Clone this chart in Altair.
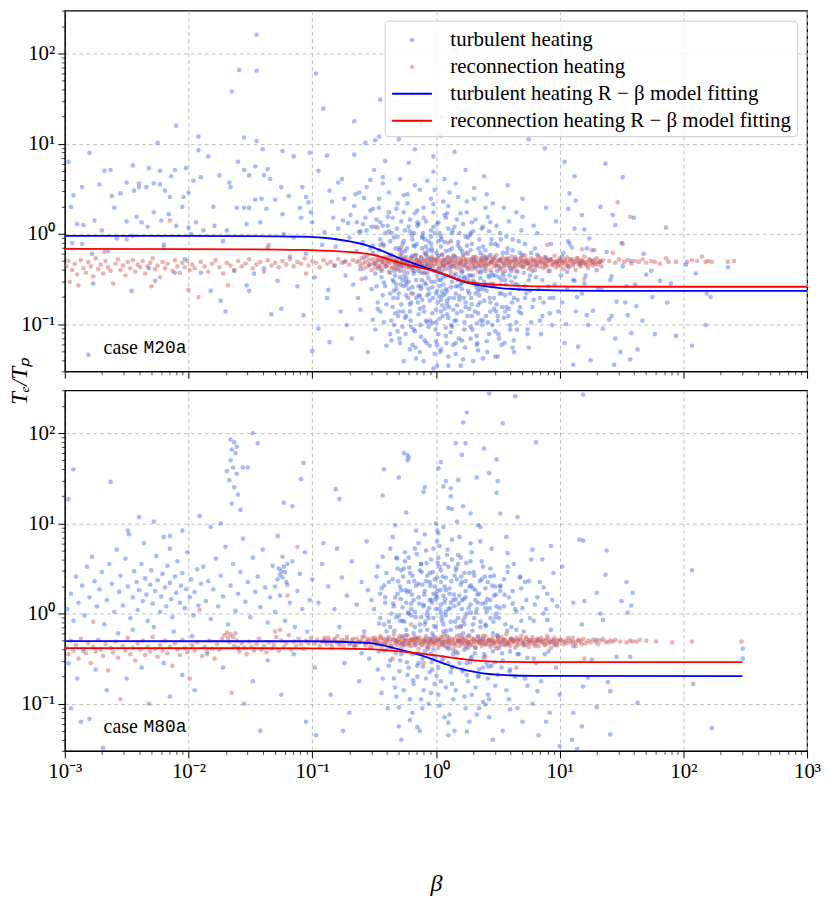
import altair as alt
import pandas as pd

SERIF = "Liberation Serif"
MONO = "Liberation Mono"

SERIES = ["turbulent heating", "reconnection heating",
          "turbulent heating R − β model fitting",
          "reconnection heating R − β model fitting"]
FILLS = ["rgba(65,105,225,0.45)", "rgba(205,92,92,0.45)", "#0000ff", "#ff0000"]
STROKES = ["transparent", "transparent", "#0000ff", "#ff0000"]
DOT = "M0.17,0A0.17,0.17,0,1,1,-0.17,0A0.17,0.17,0,1,1,0.17,0Z"
DASH = "M-1.48,0L1.48,0"
SHAPES = [DOT, DOT, DASH, DASH]
CASES = ["M20a", "M80a"]
SUPERS = "['⁻³','⁻²','⁻¹','⁰','¹','²','³']"

# ---- scatter values: "log10(beta),log10(Te/Tp)" ----
M20A_TURB = """
-2.97,0.80 -2.80,0.90 -2.10,1.20 -1.45,2.21 -1.59,1.82 -1.45,1.81 -1.65,1.58 -0.97,1.78 -0.91,1.39 -0.45,1.49 -0.66,1.25
-1.92,1.08 -1.92,0.93 -1.84,0.86 -1.55,1.07 -1.45,1.03 -1.40,0.94 -2.25,1.01 -1.24,0.92 -1.15,0.86 -1.02,0.90 -0.66,0.88
-0.57,1.01 -0.49,1.04 -0.46,1.08 -0.41,0.81 -0.88,0.87
-2.68,0.70 -2.63,0.71 -2.45,0.76 -2.32,0.73 -2.23,0.70 -2.14,0.64 -2.11,0.71 -2.02,0.73 -1.96,0.59 -2.93,0.43 -2.86,0.52
-2.62,0.42 -2.50,0.57 -2.40,0.56 -2.40,0.52 -2.44,0.48 -2.34,0.52 -2.28,0.56 -2.23,0.55 -2.19,0.48 -2.15,0.41 -2.04,0.41
-2.00,0.46 -1.90,0.63 -1.67,0.57 -1.66,0.52 -1.60,0.80 -1.55,0.71 -1.51,0.65 -1.46,0.75 -1.39,0.65 -1.36,0.72 -1.34,0.61
-1.25,0.52 -1.19,0.42 -1.08,0.52 -1.05,0.41 -1.03,0.35 -0.95,0.70 -0.86,0.48 -0.79,0.57 -0.74,0.39 -0.62,0.46 -0.53,0.60
-0.43,0.63 -0.58,0.40
-2.90,0.11 -2.85,0.10 -2.76,0.15 -2.70,0.04 -2.60,0.29 -2.55,0.45 -2.50,0.14 -2.42,0.19 -2.38,0.13 -2.33,0.08 -2.28,0.24
-2.22,0.15 -2.16,0.22 -2.10,0.09 -2.00,0.07 -1.94,0.13 -1.88,0.04 -1.79,0.09 -1.69,0.04 -1.61,0.29 -1.55,0.29 -1.51,0.29
-1.53,0.11 -1.42,0.13 -1.46,0.38 -1.41,0.39 -1.37,0.28 -1.30,0.38 -1.24,0.22 -1.09,0.18 -1.10,0.29 -1.01,0.24 -1.00,0.13
-0.83,0.18 -0.75,0.15 -0.64,0.13 -0.61,0.03 -0.57,0.18 -0.51,0.28 -0.49,0.08 -0.43,0.09 -0.38,0.24
-2.94,-0.10 -2.86,-0.11 -2.78,-0.22 -2.77,-0.55 -2.46,-0.63 -2.65,-0.19 -2.32,-0.38 -2.27,-0.52 -2.11,-0.43 -2.03,-0.28
-1.90,-0.43 -1.82,-0.63 -1.74,-0.74 -1.70,-0.86 -1.63,-0.41 -1.53,-0.57 -1.51,-0.63 -1.47,-0.44 -1.39,-0.38 -1.33,-0.89
-1.25,-0.83 -2.81,-1.34 -1.23,0.00 -1.15,-0.04
-1.05,-0.22 -0.98,-0.48 -0.92,-0.12 -0.88,-0.71 -1.12,-0.58 -0.95,-1.05 -1.18,-0.25 -0.90,0.02 -1.07,-0.90 -2.58,-0.05
-2.20,-0.12 -1.98,0.00 -1.72,-0.08 -2.45,-0.02 -1.36,-0.15 -1.28,-0.52 -0.82,-0.35 -1.00,-1.30 -0.86,-1.20 -2.95,0.30
-2.72,0.55 -1.80,0.30 -1.75,0.65 -2.05,0.30
0.22,1.35 -0.12,1.22 0.48,1.18 0.62,1.45 0.35,1.62 -0.20,1.55 0.05,1.30 0.75,1.05 0.88,0.95 -0.30,1.05 0.15,2.05 0.41,2.19
-0.84,0.36 -0.81,-0.14 -0.87,-0.62 -0.79,0.06 -0.76,0.61 -0.74,-0.31 -0.77,-0.86 -0.71,0.12 -0.73,-0.46 -0.69,0.21
-0.70,-0.04 -0.67,-0.56 -0.72,-1.01 -0.65,0.44 -0.64,-0.19 -0.66,0.31 -0.63,-0.71 -0.61,-0.39 -0.62,0.02 -0.68,-1.16
-0.59,0.11 -0.58,-0.26 -0.57,-0.49 -0.61,-0.84 -0.56,0.52 -0.59,-0.09 -0.55,-1.31 -0.54,-0.34 -0.53,0.26 -0.52,-0.61
-0.56,0.04 -0.51,-0.95 -0.53,-0.16 -0.50,0.71 -0.49,-0.44 -0.48,0.16 -0.51,-0.21 -0.47,-0.76 -0.46,0.39 -0.49,-1.06
-0.45,-0.06 -0.44,-0.29 -0.46,0.29 -0.43,-0.11 -0.42,-0.54 -0.45,-0.86 -0.41,0.01 -0.44,-0.41 -0.40,-1.24 -0.43,0.56
-0.38,-0.24 -0.39,0.09 -0.37,-0.66 -0.41,-0.36 -0.36,-0.96 -0.38,0.46 -0.35,-0.51 -0.39,0.19 -0.37,-1.11 -0.34,-0.04
-0.33,-0.31 -0.36,0.01 -0.32,-0.56 -0.31,0.34 -0.35,-0.81 -0.30,-0.16 -0.33,-0.46 -0.29,0.61 -0.34,-1.01 -0.28,0.14 -0.31,-0.71
-0.27,-0.11 -0.29,-0.41 -0.26,0.24 -0.30,-0.66 -0.25,0.04 -0.28,-0.26 -0.24,-0.91 -0.27,-0.51 -0.23,0.44 -0.29,-1.21 -0.26,-0.36 -0.22,0.79
-0.24,-0.49 -0.21,0.16 -0.25,-0.19 -0.20,-0.76 -0.23,0.34 -0.19,-0.06 -0.22,-0.61 -0.18,-1.06 -0.24,-0.31 -0.17,0.54 -0.21,-0.86 -0.26,-1.41
-0.18,0.01 -0.16,-0.34 -0.19,-0.59 -0.15,0.26 -0.17,-0.14 -0.14,-0.89 -0.18,-0.44 -0.13,0.49 -0.16,-0.71 -0.12,-1.14 -0.15,0.09 -0.19,-0.24 -0.17,0.94
-0.14,-0.41 -0.11,-0.04 -0.13,-0.69 -0.10,0.29 -0.12,-0.26 -0.09,-0.54 -0.14,0.11 -0.08,-0.96 -0.11,-0.16 -0.13,-1.31 -0.07,0.59 -0.10,-0.81 -0.12,-0.36
-0.09,-0.21 -0.06,-0.49 -0.08,0.14 -0.05,-0.74 -0.07,-0.34 -0.04,0.39 -0.09,-0.06 -0.03,-0.99 -0.06,-0.61 -0.08,-0.14 -0.02,0.69 -0.05,-1.24 -0.07,-0.44 -0.04,0.04
-0.04,-0.29 -0.01,0.01 -0.03,-0.59 0.00,-0.84 -0.02,0.24 0.01,-0.46 -0.04,-0.11 0.02,-1.11 -0.01,0.49 0.03,-0.69 -0.03,-0.19 0.01,-1.46 -0.02,0.86
0.02,-0.39 0.04,-0.14 0.01,0.11 0.05,-0.64 0.03,-0.94 0.06,0.36 0.02,-0.24 0.04,-0.51 0.07,0.61 0.00,-1.19 0.05,-0.79 0.03,0.01 0.06,-0.34 0.04,1.09
0.06,-0.56 0.08,-0.19 0.07,0.21 0.09,-0.74 0.05,-0.41 0.10,0.06 0.08,-1.04 0.06,-0.29 0.11,0.46 0.09,-0.89 0.07,-0.09 0.10,-1.36 0.08,-0.61
0.11,-0.31 0.13,0.01 0.12,-0.59 0.14,-0.84 0.10,0.31 0.15,-0.46 0.13,-0.16 0.12,-1.09 0.16,0.56 0.11,-0.71 0.14,-0.24 0.15,0.91
0.16,-0.44 0.18,-0.09 0.17,0.16 0.19,-0.69 0.15,-0.96 0.20,-0.31 0.18,0.41 0.16,-1.21 0.21,-0.54 0.19,0.01 0.17,-0.79
0.21,-0.19 0.23,-0.49 0.22,0.11 0.24,-0.81 0.20,-0.36 0.25,0.36 0.23,-1.06 0.21,-0.61 0.26,-0.04 0.24,0.71 0.22,-1.39
0.26,-0.39 0.28,0.01 0.27,-0.66 0.29,-0.91 0.25,0.24 0.30,-0.26 0.28,-1.16 0.26,-0.51 0.31,0.51 0.29,-0.11
0.31,-0.29 0.33,-0.59 0.32,0.16 0.34,-0.79 0.30,-0.46 0.35,-0.06 0.33,-0.99 0.31,0.39 0.36,-0.21 0.34,-1.29
0.36,-0.49 0.38,-0.14 0.37,0.06 0.39,-0.74 0.35,-0.36 0.40,0.29 0.38,-0.96 0.36,-0.61 0.41,-1.19 0.39,0.64
0.41,-0.26 0.43,-0.56 0.42,0.19 0.44,-0.86 0.40,-0.41 0.45,-0.06 0.43,-1.11 0.41,0.44
0.46,-0.46 0.48,-0.11 0.47,-0.71 0.49,0.09 0.45,-0.31 0.50,-0.96 0.48,-1.36 0.46,0.34
0.51,-0.36 0.53,-0.66 0.52,0.01 0.54,-0.21 0.50,-0.91 0.55,0.29 0.53,-0.51 0.51,-1.16
0.56,-0.51 0.58,-0.16 0.57,-0.81 0.59,0.14 0.55,-0.36 0.60,-1.06 0.58,0.54
0.61,-0.41 0.63,-0.71 0.62,-0.06 0.64,-0.26 0.60,-1.01 0.65,0.24 0.63,-1.31
0.66,-0.56 0.68,-0.21 0.67,-0.86 0.69,0.04 0.65,-0.41 0.70,0.39
0.71,-0.31 0.73,-0.66 0.72,-0.11 0.74,-1.11 0.70,0.19 0.75,-0.51
0.76,-0.46 0.78,-0.81 0.77,-0.21 0.79,0.09 0.75,-1.26
0.81,-0.36 0.83,-0.61 0.82,0.01 0.84,-0.96 0.80,-0.16
0.86,-0.51 0.88,-0.26 0.87,-0.76 0.89,0.29 0.85,-1.11
0.91,-0.41 0.93,-0.11 0.92,-0.71 0.94,-1.01
0.96,-0.56 0.98,-0.31 0.97,0.14 0.99,-0.86
1.01,-0.46 1.03,-0.21 1.02,-0.76 1.04,-1.21
1.06,-0.61 1.08,-0.11 1.07,-0.36 1.11,-0.51 1.13,-0.86 1.12,0.06 1.16,-0.31 1.18,-0.66
1.21,-0.46 1.23,-1.01 1.22,-0.16 1.31,-0.61 1.33,-0.31 1.41,-0.51 1.43,0.21 1.42,-0.91
1.51,-0.36 1.53,-0.76 1.61,-0.56 1.74,-0.41 1.77,-1.11
1.04,0.80 1.37,0.78 1.12,0.64 1.51,0.63 1.13,0.37 1.07,0.28 1.18,0.21 1.86,0.07 1.07,-0.08 1.81,-0.52 1.87,-0.76
1.67,-0.96 1.94,-1.13 2.07,-1.24 2.18,-1.01 2.10,-0.44 2.19,-0.66 2.22,-0.70 2.36,-0.37 2.02,-0.34 1.58,-1.10
1.63,-1.28 1.45,-1.16 1.49,-1.31 1.57,-1.39
1.02,-0.25 1.06,-0.42 1.10,-0.15 1.14,-0.70 1.17,-0.33 1.20,-0.55 1.24,-0.05 1.27,-0.85 1.30,-0.40 1.34,-0.62
1.38,-0.20 1.42,-0.47 1.46,-0.75 1.50,-0.10 1.54,-0.58 1.58,-0.30 1.62,-0.80 1.05,-1.00 1.15,-1.25 1.25,-1.40
1.35,-1.05 1.12,-0.52 1.22,-0.90 1.40,-0.95 1.28,-0.18 1.45,0.10 1.08,0.45 1.20,0.05 1.33,0.30 1.60,0.18
1.70,-0.45 1.75,-0.70 1.68,-0.22 1.90,-0.55 1.55,-0.90 1.44,-1.45 1.11,-1.45
"""

M20A_TURB_CORE = """
-0.48,-0.58 -0.51,-0.13 -0.49,-0.33 -0.52,0.08 -0.47,-0.83 -0.44,-0.48 -0.46,-0.18 -0.43,-0.68 -0.45,0.13 -0.42,-0.98
-0.47,-0.38 -0.39,-0.28 -0.41,-0.58 -0.38,0.03 -0.40,-0.78 -0.37,-0.43 -0.42,-0.13 -0.36,-1.18 -0.34,-0.63 -0.36,-0.23
-0.33,-0.88 -0.35,0.18 -0.32,-0.38 -0.37,-0.08 -0.31,-1.08 -0.34,-0.53 -0.29,-0.48 -0.31,-0.03 -0.28,-0.78 -0.30,-0.33
-0.27,-1.03 -0.32,0.28 -0.26,-0.58 -0.29,-0.18 -0.24,-0.68 -0.26,-0.08 -0.23,-0.43 -0.25,-0.93 -0.22,0.08 -0.27,-0.28
-0.21,-1.28 -0.24,-0.53 -0.26,0.43 -0.19,-0.38 -0.21,-0.78 -0.18,-0.13 -0.20,-1.03 -0.17,0.23 -0.22,-0.53 -0.16,-0.28
-0.19,-1.23 -0.21,0.03 -0.14,-0.58 -0.16,-0.23 -0.13,-0.83 -0.15,0.13 -0.12,-0.43 -0.17,-1.08 -0.11,-0.03 -0.14,-0.68
-0.16,-1.38 -0.09,-0.43 -0.11,-0.73 -0.08,-0.23 -0.10,0.18 -0.07,-0.98 -0.12,-0.58 -0.06,-0.08 -0.09,-1.18 -0.11,-0.33
-0.04,-0.53 -0.06,-0.18 -0.03,-0.88 -0.05,-0.38 -0.02,0.08 -0.07,-0.68 -0.01,-1.33 -0.04,-0.03 -0.06,-1.03 0.01,-0.63
-0.01,-0.28 0.02,-0.08 0.00,-0.98 0.03,-0.43 -0.02,0.33 0.04,-0.73 0.01,-1.23 -0.01,-0.53 0.02,0.13 0.06,-0.48
0.04,-0.03 0.07,-0.83 0.05,-0.23 0.08,-1.13 0.03,-0.58 0.09,0.23 0.06,-0.68 0.04,-1.28 0.11,-0.38 0.09,-0.63
0.12,-0.08 0.10,-0.93 0.13,-0.53 0.08,0.18 0.14,-1.23 0.11,-0.18 0.09,-0.78 0.16,-0.58 0.14,-0.33 0.17,-0.88
0.15,0.08 0.18,-0.13 0.13,-1.03 0.19,-0.48 0.16,-1.33 0.21,-0.43 0.19,-0.73 0.22,-0.23 0.20,0.23 0.23,-0.98
0.18,-0.58 0.24,-0.03 0.21,-1.18 0.26,-0.63 0.24,-0.33 0.27,-0.83 0.25,-0.13 0.28,-1.03 0.23,-0.48 0.29,0.13
0.31,-0.53 0.29,-0.78 0.32,-0.38 0.30,0.03 0.33,-1.13 0.28,-0.18 0.34,-0.63 0.36,-0.43 0.34,-0.88 0.37,-0.28
0.35,-0.68 0.38,0.08 0.33,-1.23 0.39,-0.53 0.41,-0.63 0.39,-0.33 0.42,-0.98 0.40,-0.18 0.43,-0.48 0.38,-1.38
0.44,0.13 0.46,-0.58 0.44,-0.23 0.47,-0.83 0.45,-0.43 0.48,-1.08 0.43,0.03 0.51,-0.48 0.49,-0.78 0.52,-0.28
0.50,-0.13 0.53,-1.23 0.48,-0.58 0.56,-0.68 0.54,-0.43 0.57,-0.03 0.55,-0.93 0.58,-0.28 0.61,-0.53 0.59,-0.83
0.62,-0.18 0.60,-0.38 0.63,-1.18 0.66,-0.73 0.64,-0.48 0.67,-0.08 0.65,-0.98 0.71,-0.43 0.69,-0.88 0.72,-0.58
0.70,-0.23 0.76,-0.63 0.74,-0.33 0.77,-0.98 0.81,-0.48 0.79,-0.73 0.82,-0.23 0.91,-0.58 0.89,-0.28 0.92,-0.88
-0.345,-0.71 -0.325,-0.16 -0.305,-0.91 -0.335,-0.41 -0.315,0.06 -0.295,-1.16 -0.285,-0.56 -0.275,-0.21 -0.265,-0.86 -0.255,-0.46
-0.245,-1.11 -0.235,-0.16 -0.225,-0.71 -0.215,-0.36 -0.205,-0.96 -0.195,-0.01 -0.185,-0.66 -0.175,-0.41 -0.165,-1.26 -0.155,-0.11
-0.145,-0.76 -0.135,-0.31 -0.125,-1.01 -0.115,-0.51 -0.105,0.01 -0.095,-0.86 -0.085,-0.36 -0.075,-1.21 -0.065,-0.26 -0.055,-0.66
-0.045,-0.96 -0.035,-0.16 -0.025,-0.71 -0.015,-0.41 -0.005,-1.06 0.005,-0.21 0.015,-0.76 0.025,-0.51 0.035,-1.31 0.045,-0.06
0.055,-0.91 0.065,-0.36 0.075,-0.66 0.085,-1.21 0.095,-0.26 0.105,-0.81 0.115,-0.46 0.125,-1.01 0.135,0.04 0.145,-0.71
0.155,-0.26 0.165,-0.96 0.175,-0.51 0.185,-1.16 0.195,-0.16 0.205,-0.86 0.215,-0.41 0.225,-0.71 0.235,-1.26 0.245,-0.21
0.255,-0.91 0.265,-0.46 0.275,-0.01 0.285,-0.71 0.295,-1.06 0.305,-0.36 0.315,-0.86 0.325,-0.56 0.335,-1.21 0.345,-0.16
0.355,-0.76 0.365,-0.41 0.375,-1.01 0.385,-0.61 0.395,-0.26 0.405,-0.91 0.415,-1.31 0.425,-0.46 0.435,-0.71 0.445,-0.11
0.455,-1.01 0.465,-0.56 0.475,-0.26 0.485,-0.86 0.495,-0.41 0.505,-1.11 0.515,-0.66 0.525,-0.06 0.535,-0.81 0.545,-0.46
0.555,-1.21 0.565,-0.56 0.575,-0.21 0.585,-0.91 0.595,-0.46 0.615,-0.76 0.635,-0.31 0.655,-1.06 0.675,-0.61 0.695,-0.36
-0.32,-0.61 -0.28,-0.36 -0.24,-0.56 -0.20,-0.26 -0.16,-0.51 -0.12,-0.61 -0.08,-0.56 -0.04,-0.36 0.00,-0.66 0.04,-0.86
0.08,-0.46 0.12,-0.36 0.16,-0.66 0.20,-0.56 0.24,-0.76 0.28,-0.46 0.32,-0.66 0.36,-0.96 0.40,-0.56 0.44,-0.76
0.48,-0.46 0.52,-0.56 0.56,-0.86 0.60,-0.66 0.64,-0.56 0.68,-0.81 -0.30,-0.86 -0.10,-1.41 0.10,-1.46 0.30,-1.41
0.50,-1.36 0.20,-1.46 -0.02,-1.49 0.62,-1.26 0.72,-0.71 0.78,-0.41 0.84,-0.71 0.74,-1.06 0.86,-0.91 0.95,-0.71
"""

M20A_REC = """
-2.99,-0.36 -2.97,-0.30 -2.96,-0.53 -2.94,-0.40 -2.92,-0.33 -2.90,-0.45 -2.89,-0.57 -2.87,-0.29 -2.85,-0.38 -2.83,-0.43
-2.81,-0.31 -2.79,-0.36 -2.77,-0.47 -2.75,-0.27 -2.73,-0.39 -2.71,-0.34 -2.69,-0.44 -2.67,-0.30 -2.65,-0.37 -2.63,-0.41
-2.61,-0.55 -2.59,-0.33 -2.57,-0.28 -2.55,-0.40 -2.53,-0.35 -2.51,-0.46 -2.49,-0.31 -2.47,-0.38 -2.45,-0.29 -2.43,-0.42
-2.41,-0.34 -2.39,-0.37 -2.37,-0.30 -2.35,-0.44 -2.33,-0.36 -2.31,-0.32 -2.29,-0.27 -2.27,-0.39 -2.25,-0.35 -2.23,-0.48
-2.21,-0.31 -2.19,-0.38 -2.17,-0.33 -2.15,0.15 -2.13,-0.41 -2.11,-0.29 -2.09,-0.36 -2.07,-0.43 -2.05,-0.32 -2.03,-0.37
-2.01,-0.30 -1.99,-0.40 -1.97,-0.34 -1.95,-0.38 -1.92,-0.70 -1.90,-0.31 -1.87,-0.36 -1.84,-0.42 -1.81,-0.33 -1.78,-0.29
-1.75,-0.37 -1.72,-0.44 -1.69,-0.32 -1.66,-0.35 -1.63,-0.40 -1.60,-0.30 -1.57,-0.36 -1.54,-0.33 -1.51,-0.28 -1.48,-0.38
-1.45,-0.34 -1.42,-0.31 -1.39,-0.42 -1.36,-0.29 -1.33,-0.35 -1.30,-0.32 -1.27,-0.37 -1.24,-0.30 -1.21,-0.34 -1.18,-0.28
-1.15,-0.36 -1.12,-0.31 -1.09,-0.33 -1.06,-0.27 -1.03,-0.35 -1.00,-0.30 -0.97,-0.32 -0.94,-0.37 -0.91,-0.29 -0.88,-0.33
-0.85,-0.31 -0.82,-0.35 -0.79,-0.28 -0.76,-0.32 -0.73,-0.30 -0.70,-0.34 -0.67,-0.29 -0.64,-0.31 -2.50,-0.06 -2.30,-0.58
-2.00,-0.62 -1.68,-0.57 -1.35,-0.12 -2.68,-0.20 -2.20,-0.15
-0.62,-0.30 -0.61,-0.35 -0.60,-0.27 -0.59,-0.33 -0.58,-0.38 -0.57,-0.31 -0.56,-0.25 -0.55,-0.36 -0.54,-0.29 -0.53,-0.34
-0.52,-0.40 -0.51,-0.28 -0.50,-0.32 -0.49,-0.37 -0.48,-0.24 -0.47,-0.30 -0.46,-0.35 -0.45,-0.27 -0.44,-0.39 -0.43,-0.31
-0.42,-0.33 -0.41,-0.26 -0.40,-0.36 -0.39,-0.29 -0.38,-0.42 -0.37,-0.32 -0.36,-0.25 -0.35,-0.37 -0.34,-0.30 -0.33,-0.34
-0.32,-0.28 -0.31,-0.39 -0.30,-0.31 -0.29,-0.23 -0.28,-0.35 -0.27,-0.29 -0.26,-0.41 -0.25,-0.33 -0.24,-0.26 -0.23,-0.37
-0.22,-0.30 -0.21,-0.34 -0.20,-0.27 -0.19,-0.40 -0.18,-0.32 -0.17,-0.24 -0.16,-0.36 -0.15,-0.29 -0.14,-0.38 -0.13,-0.31
-0.12,-0.26 -0.11,-0.35 -0.10,-0.43 -0.09,-0.30 -0.08,-0.22 -0.07,-0.33 -0.06,-0.28 -0.05,-0.39 -0.04,-0.31 -0.03,-0.25
-0.02,-0.36 -0.01,-0.29 0.00,-0.41 0.01,-0.33 0.02,-0.27 0.03,-0.37 0.04,-0.30 0.05,-0.23 0.06,-0.35 0.07,-0.28
0.08,-0.39 0.09,-0.32 0.10,-0.26 0.11,-0.34 0.12,-0.42 0.13,-0.29 0.14,-0.36 0.15,-0.24 0.16,-0.31 0.17,-0.38
0.18,-0.27 0.19,-0.33 0.20,-0.40 0.21,-0.30 0.22,-0.25 0.23,-0.35 0.24,-0.29 0.25,-0.37 0.26,-0.22 0.27,-0.32
0.28,-0.28 0.29,-0.39 0.30,-0.31 0.31,-0.26 0.32,-0.36 0.33,-0.30 0.34,-0.42 0.35,-0.33 0.36,-0.27 0.37,-0.35
0.38,-0.24 0.39,-0.31 0.40,-0.38 0.41,-0.29 0.42,-0.34 0.43,-0.26 0.44,-0.40 0.45,-0.32 0.46,-0.28 0.47,-0.36
0.48,-0.30 0.49,-0.23 0.50,-0.35 0.51,-0.29 0.52,-0.39 0.53,-0.31 0.54,-0.26 0.55,-0.34 0.56,-0.41 0.57,-0.30
0.58,-0.27 0.59,-0.36 0.60,-0.32 0.61,-0.25 0.62,-0.38 0.63,-0.29 0.64,-0.34 0.65,-0.28 0.66,-0.42 0.67,-0.31
0.68,-0.35 0.69,-0.26 0.70,-0.30 0.71,-0.37 0.72,-0.24 0.73,-0.33 0.74,-0.29 0.75,-0.39 0.76,-0.31 0.77,-0.27
0.78,-0.35 0.79,-0.30 0.80,-0.40 0.81,-0.28 0.82,-0.33 0.83,-0.25 0.84,-0.36 0.85,-0.31 0.86,-0.29 0.87,-0.38
0.88,-0.32 0.89,-0.26 0.90,-0.35 0.91,-0.30 0.92,-0.41 0.93,-0.28 0.94,-0.34 0.95,-0.31 0.96,-0.24 0.97,-0.37
0.98,-0.30 0.99,-0.33 1.00,-0.27 1.01,-0.36 1.02,-0.31 1.03,-0.39 1.04,-0.29 1.05,-0.34 1.06,-0.26 1.07,-0.32
1.08,-0.37 1.09,-0.30 1.10,-0.28 1.11,-0.35 1.12,-0.31 1.13,-0.40 1.14,-0.27 1.15,-0.33 1.16,-0.30 1.17,-0.36
1.18,-0.29 1.19,-0.32 1.20,-0.25 1.21,-0.34 1.22,-0.31 1.23,-0.38 1.24,-0.28 1.25,-0.33 1.26,-0.30 1.27,-0.35
1.28,-0.29 1.29,-0.32 1.30,-0.27 1.31,-0.34 1.32,-0.31 1.33,-0.30 1.34,-0.36 1.35,-0.29
-0.395,-0.31 -0.355,-0.28 -0.315,-0.34 -0.275,-0.32 -0.235,-0.30 -0.195,-0.35 -0.155,-0.33 -0.115,-0.30 -0.075,-0.37
-0.035,-0.32 0.005,-0.29 0.045,-0.34 0.085,-0.31 0.125,-0.30 0.165,-0.35 0.205,-0.32 0.245,-0.28 0.285,-0.34
0.325,-0.31 0.365,-0.30 0.405,-0.35 0.445,-0.31 0.485,-0.33 0.525,-0.29 0.565,-0.32 0.605,-0.30 0.645,-0.36
0.685,-0.31 0.725,-0.29 0.765,-0.34 0.805,-0.31 0.845,-0.30 0.885,-0.33 0.925,-0.29 0.965,-0.32 1.005,-0.30
-0.60,-0.50 -0.28,-0.15 0.10,-0.10 0.45,-0.55 0.90,-0.12 1.20,-0.50 -0.45,-0.12 0.30,-0.52 -0.47,0.07 -1.05,-0.44 -0.20,-0.66
1.40,-0.30 1.43,-0.21 1.45,-0.32 1.47,0.35 1.48,-0.28 1.51,-0.11 1.52,-0.31 1.55,-0.29 1.57,0.19 1.58,-0.33
1.61,-0.30 1.64,-0.31 1.67,-0.28 1.70,-0.32 1.74,-0.30 1.77,-0.31 1.81,-0.33 1.86,-0.27 1.88,-0.31 1.94,-0.31
2.03,-0.31 2.07,-0.29 2.11,-0.30 2.15,-0.25 2.18,-0.31 2.20,-0.30 2.23,-0.31 2.36,-0.31 2.41,-0.30 1.18,-0.17 1.26,-0.18
"""

M20A_REC_CORE = """
-0.495,-0.33 -0.475,-0.29 -0.455,-0.36 -0.435,-0.31 -0.415,-0.27 -0.395,-0.34 -0.375,-0.30 -0.355,-0.38 -0.335,-0.32 -0.315,-0.28
-0.295,-0.35 -0.275,-0.31 -0.255,-0.26 -0.235,-0.33 -0.215,-0.37 -0.195,-0.30 -0.175,-0.34 -0.155,-0.29 -0.135,-0.32 -0.115,-0.36
-0.095,-0.28 -0.075,-0.31 -0.055,-0.35 -0.035,-0.27 -0.015,-0.33 0.005,-0.30 0.025,-0.38 0.045,-0.32 0.065,-0.29 0.085,-0.34
0.105,-0.31 0.125,-0.27 0.145,-0.36 0.165,-0.30 0.185,-0.33 0.205,-0.28 0.225,-0.35 0.245,-0.31 0.265,-0.37 0.285,-0.29
0.305,-0.32 0.325,-0.26 0.345,-0.34 0.365,-0.30 0.385,-0.36 0.405,-0.28 0.425,-0.33 0.445,-0.31 0.465,-0.27 0.485,-0.35
0.505,-0.30 0.525,-0.38 0.545,-0.32 0.565,-0.28 0.585,-0.34 0.605,-0.31 0.625,-0.36 0.645,-0.29 0.665,-0.33 0.685,-0.27
0.705,-0.35 0.725,-0.30 0.745,-0.32 0.765,-0.37 0.785,-0.29 0.805,-0.34 0.825,-0.31 0.845,-0.27 0.865,-0.33 0.885,-0.36
0.905,-0.30 0.925,-0.28 0.945,-0.34 0.965,-0.31 0.985,-0.35 1.005,-0.29 1.025,-0.32 1.045,-0.30 1.065,-0.36 1.085,-0.28
1.105,-0.33 1.125,-0.31 1.145,-0.27 1.165,-0.34 1.185,-0.30 1.205,-0.32 1.225,-0.35 1.245,-0.29 1.265,-0.31 1.285,-0.33
"""

M80A_TURB = """
-2.93,1.60 -2.63,1.46 -2.97,1.27 -2.49,0.92 -2.40,1.07 -2.28,1.02 -2.15,0.86 -2.15,0.72 -1.82,0.96 -1.74,1.00 -1.91,1.08
-1.66,1.93 -1.63,1.90 -1.65,1.82 -1.62,1.78 -1.66,1.70 -1.64,1.62 -1.61,1.55 -1.67,1.48 -1.63,1.40 -1.60,1.32 -1.65,1.22
-1.58,1.15 -1.69,1.58 -1.61,1.85 -1.56,1.62 -1.52,1.62 -1.44,1.89 -1.48,2.00
-1.23,1.23 -1.16,1.19 -1.07,1.67 -1.09,1.49 -0.91,0.78 -0.81,1.38 -0.78,1.27 -0.42,1.60 -0.43,1.31 -0.33,0.98 -0.30,1.51
-0.26,1.78 -0.23,1.70
-1.27,0.50 -1.25,0.47 -1.23,0.52 -1.26,0.43 -1.24,0.40 -1.22,0.46 -1.28,0.38 -1.21,0.35 -1.30,0.30 -1.20,0.55
-2.98,0.05 -2.95,0.22 -2.93,-0.08 -2.91,0.41 -2.89,0.12 -2.86,0.31 -2.84,-0.02 -2.82,0.52 -2.80,0.18 -2.78,0.63
-2.76,0.36 -2.74,0.08 -2.72,0.27 -2.70,0.46 -2.68,-0.12 -2.66,0.15 -2.64,0.55 -2.62,0.33 -2.60,0.02 -2.58,0.71
-2.97,-0.55 -2.90,-0.72 -2.85,-0.41 -2.75,-0.62 -2.66,-0.85 -2.95,-1.05 -2.87,-1.20 -2.80,-1.17 -2.69,-1.49
-2.56,0.24 -2.55,0.42 -2.53,0.09 -2.51,0.61 -2.49,0.30 -2.47,-0.05 -2.45,0.18 -2.44,0.47 -2.42,0.35 -2.41,0.04
-2.40,0.26 -2.38,0.55 -2.37,0.14 -2.35,0.39 -2.34,0.21 -2.33,-0.08 -2.31,0.32 -2.30,0.48 -2.29,0.11 -2.27,0.25
-2.26,0.64 -2.25,0.37 -2.23,0.02 -2.22,0.19 -2.21,0.44 -2.19,0.29 -2.18,0.08 -2.17,0.53 -2.15,0.34 -2.14,0.16
-2.13,-0.04 -2.11,0.41 -2.10,0.23 -2.09,0.58 -2.07,0.12 -2.06,0.31 -2.05,0.45 -2.03,0.06 -2.02,0.27 -2.01,0.68
-1.99,0.18 -1.98,0.38 -1.96,-0.02 -1.95,0.24 -1.93,0.49 -1.92,0.09 -1.90,0.33 -2.36,0.78 -2.20,0.85 -2.05,0.92
-2.48,0.88 -2.57,-0.22 -2.45,-0.18 -2.28,-0.15 -2.12,-0.20 -1.97,-0.25 -2.50,-0.72 -2.38,-0.60 -2.20,-0.55 -2.05,-0.68
-1.95,-0.85 -2.32,-1.00 -2.15,-0.92
-1.88,0.52 -1.86,0.14 -1.84,0.36 -1.82,-0.06 -1.80,0.27 -1.78,0.61 -1.76,0.08 -1.74,0.42 -1.72,0.19 -1.70,0.74
-1.68,-0.12 -1.66,0.31 -1.64,0.55 -1.62,0.03 -1.60,0.22 -1.58,0.46 -1.56,0.83 -1.54,0.13 -1.52,0.35 -1.50,-0.04
-1.48,0.62 -1.46,0.24 -1.44,0.41 -1.42,0.07 -1.40,0.71 -1.38,0.29 -1.36,-0.10 -1.34,0.18 -1.32,0.53 -1.30,0.02
-1.28,0.86 -1.26,0.20 -1.24,0.63 -1.22,-0.08 -1.20,0.32 -1.18,0.12 -1.16,0.58 -1.14,-0.15 -1.12,0.25 -1.10,0.44
-1.08,0.05 -1.06,0.68 -1.04,-0.20 -1.02,0.15 -1.00,0.38 -1.85,-0.45 -1.72,-0.60 -1.60,-0.38 -1.48,-0.75 -1.36,-0.52
-1.25,-0.90 -1.15,-0.45 -1.05,-1.20 -1.55,-1.00 -1.42,-1.30
-0.98,-0.60 -0.95,0.12 -0.92,0.55 -0.90,-0.30 -0.87,0.30 -0.85,-0.90 -0.82,0.05 -0.80,0.72 -0.78,-0.15 -0.76,0.40
-0.74,-0.55 -0.72,0.20 -0.70,-1.10 -0.68,0.58 -0.66,-0.35 -0.64,0.10 -0.62,-0.75 -0.60,0.35 -0.58,-0.20 -0.56,0.80
-0.54,-0.50 -0.52,0.15 -0.97,-1.35 -0.75,-1.30
-0.50,0.05 -0.49,-0.32 -0.48,0.41 -0.47,-0.62 -0.46,-0.11 -0.45,0.22 -0.44,-0.88 -0.43,0.63 -0.42,-0.41 -0.41,0.12
-0.40,-0.20 -0.39,-1.05 -0.38,0.35 -0.37,-0.52 -0.36,0.00 -0.35,0.85 -0.34,-0.72 -0.33,0.18 -0.32,-0.30 -0.31,0.50
-0.30,-1.25 -0.29,-0.08
-0.29,0.30 -0.28,-0.45 -0.27,0.07 -0.26,-0.85 -0.25,0.68 -0.24,-0.18 -0.23,0.24 -0.22,-0.60 -0.21,0.45 -0.20,-0.02
-0.19,-1.10 -0.18,0.15 -0.17,-0.35 -0.16,0.92 -0.15,-0.70 -0.14,0.33 -0.13,-0.12 -0.12,0.55 -0.11,-0.50 -0.10,0.10
-0.28,-1.40 -0.24,1.12 -0.21,-0.95 -0.17,0.72 -0.13,-1.30 -0.26,0.50 -0.22,0.00 -0.18,-0.22 -0.14,-0.55 -0.10,-0.85
-0.09,0.25 -0.08,-0.28 -0.07,0.42 -0.06,-0.05 -0.05,-0.65 -0.04,0.60 -0.03,0.12 -0.02,-0.40 -0.01,0.30 0.00,-0.15
0.01,0.80 0.02,-0.90 0.03,0.05 0.04,0.48 0.05,-0.32 0.06,0.20 0.07,-1.15 0.08,-0.02 0.09,0.65 0.10,-0.55
-0.09,-0.12 -0.07,0.02 -0.05,0.35 -0.03,-0.22 -0.01,-0.78 0.01,0.18 0.03,0.52 0.05,-0.08 0.07,0.30 0.09,-0.38
-0.08,0.70 -0.06,-1.00 -0.04,-0.45 -0.02,0.22 0.00,1.00 0.02,-0.60 0.04,0.10 0.06,-0.20 0.08,0.40 0.10,-1.35
-0.05,0.15 -0.02,-0.05 0.01,0.40 0.04,-0.75 0.07,0.55 0.10,0.05
0.11,0.28 0.12,-0.18 0.13,0.60 0.14,-0.45 0.15,0.08 0.16,-0.85 0.17,0.38 0.18,-0.05 0.19,0.85 0.20,-0.32
0.21,0.15 0.22,-0.62 0.23,0.45 0.24,-1.05 0.25,0.00 0.26,-0.25 0.27,0.30 0.28,-0.50 0.29,0.68 0.30,-0.12
0.12,0.12 0.14,-0.95 0.16,0.48 0.18,-0.30 0.20,0.62 0.22,-0.08 0.24,0.25 0.26,-0.75 0.28,0.10 0.15,-1.30
0.19,0.20 0.23,-0.40 0.27,-1.20 0.13,-0.60 0.17,1.02 0.21,0.35 0.25,-0.55 0.29,-0.90
0.31,0.42 0.32,-0.38 0.33,0.05 0.34,-0.70 0.35,0.22 0.36,-0.15 0.37,0.58 0.38,-0.98 0.39,-0.30 0.40,0.12
0.41,-0.55 0.42,0.35 0.43,-1.15 0.44,-0.05 0.45,0.72 0.46,-0.42 0.47,0.20 0.48,-0.80 0.49,0.00 0.50,-0.25
0.32,0.15 0.34,-0.25 0.36,0.80 0.38,-0.60 0.40,-0.12 0.42,-0.90 0.44,0.50 0.46,-1.40 0.48,0.30 0.35,-1.05
0.52,0.30 0.53,-0.60 0.55,0.08 0.56,-0.35 0.58,0.52 0.59,-0.95 0.61,-0.15 0.62,0.25 0.64,-0.70 0.65,0.02
0.67,-0.45 0.68,0.40 0.70,-1.20 0.71,-0.20 0.73,0.15 0.74,-0.80 0.76,-0.05 0.77,0.60 0.79,-0.50 0.80,0.10
0.54,-1.30 0.57,0.85 0.60,-0.42 0.63,0.55 0.66,-1.05 0.69,-0.08 0.72,0.35 0.75,-0.30 0.78,-1.00 0.51,-0.05
0.82,-0.30 0.84,0.35 0.85,-0.75 0.87,0.00 0.88,-0.45 0.90,0.22 0.92,-1.10 0.93,-0.18 0.95,0.45 0.97,-0.60
0.98,0.08 1.00,-0.90 0.83,-1.35 0.89,-1.20 0.96,-0.35 0.86,0.60
0.43,2.44 0.64,2.41 1.19,2.43 0.25,2.23 0.22,2.12 0.54,2.11 0.81,1.90 0.16,1.89 0.24,1.89 0.39,1.83 0.21,1.76
0.49,1.71 0.04,1.68 0.02,1.61 0.43,1.56 0.33,1.51 0.50,1.47 0.08,1.47 -0.09,1.40 0.06,1.41 0.12,1.39 0.18,1.48
-0.10,1.35 0.12,1.30 0.49,1.34 -0.23,1.76 -0.22,1.73 0.10,1.17 0.13,1.16 0.28,1.11 0.22,1.19 0.52,1.11 0.66,1.07
0.34,0.98 0.36,0.96 0.06,0.96 0.02,0.89 0.93,0.75 1.16,0.82 0.78,0.71 0.58,0.67 1.02,0.52 0.87,0.29 0.94,0.15
0.90,-0.07 0.68,0.41
1.19,0.81 1.38,0.70 1.37,0.43 1.54,0.35 1.58,0.09 1.55,0.01 1.50,0.14 1.33,0.00 1.30,0.23 1.20,0.14 1.11,0.12
1.18,-0.12 1.23,-0.71 1.39,-0.76 1.41,-0.86 1.63,-0.99 1.30,-1.04 1.41,-1.34 2.07,0.48 2.08,-0.78 2.23,-1.27
2.48,-0.39 2.48,-0.50 1.57,-0.48 1.46,-0.48 1.59,0.23 1.19,-0.81 1.11,-1.10 1.10,-1.40 1.00,-1.47 1.14,-1.50
1.18,-1.25 1.26,-0.51 1.30,-0.29 1.35,-0.07 1.11,-0.36
"""

M80A_TURB_CORE = """
-0.46,-0.42 -0.44,0.28 -0.45,-0.05 -0.43,-0.72 -0.47,0.52 -0.41,0.18 -0.39,-0.28 -0.40,0.45 -0.38,-0.58 -0.42,-0.12
-0.37,0.72 -0.36,-0.38 -0.34,0.08 -0.35,0.38 -0.33,-0.82 -0.37,-0.15 -0.32,0.62 -0.31,0.22 -0.29,-0.52 -0.30,-0.02
-0.28,0.48 -0.32,-0.92 -0.27,-0.25 -0.26,-0.35 -0.24,0.12 -0.25,0.58 -0.23,-0.68 -0.27,-0.08 -0.22,0.35 -0.21,-1.18
-0.21,0.25 -0.19,-0.45 -0.20,0.05 -0.18,-0.78 -0.22,0.62 -0.17,-0.15 -0.19,0.42 -0.16,-0.28 -0.14,0.18 -0.15,-0.58
-0.13,0.48 -0.17,0.02 -0.12,-0.95 -0.14,0.78 -0.11,0.32 -0.09,-0.42 -0.10,0.08 -0.08,-0.72 -0.12,0.55 -0.07,-0.18
-0.09,0.88 -0.11,-1.05 -0.06,-0.32 -0.04,0.15 -0.05,0.45 -0.03,-0.62 -0.07,-0.02 -0.02,0.72 -0.04,-0.88 0.01,0.25
-0.01,-0.48 0.00,0.05 0.02,0.62 -0.02,-0.25 0.03,-1.02 0.01,0.92 -0.01,0.38 0.06,-0.12 0.04,0.35 0.05,-0.52
0.07,0.12 0.03,0.75 0.08,-0.82 0.06,-0.35 0.11,0.22 0.09,-0.25 0.10,0.52 0.12,-0.65 0.08,0.02 0.13,0.82
0.11,-1.12 0.16,-0.42 0.14,0.15 0.15,0.42 0.17,-0.15 0.13,-0.78 0.18,0.65 0.21,0.05 0.19,-0.55 0.20,0.32
0.22,-0.22 0.18,0.55 0.23,-0.92 0.26,-0.38 0.24,0.18 0.25,-0.68 0.27,0.45 0.23,-0.12 0.28,0.78 0.31,-0.05
0.29,-0.48 0.30,0.28 0.32,-0.82 0.28,0.58 0.36,-0.32 0.34,0.12 0.35,-0.62 0.37,0.38 0.33,-1.12 0.41,0.02
0.39,-0.45 0.40,0.28 0.42,-0.72 0.38,0.52 0.46,-0.22 0.44,0.15 0.45,-0.58 0.47,0.42 0.43,-0.95 0.51,-0.38
0.49,0.08 0.50,-0.68 0.52,0.25 0.56,-0.12 0.54,-0.52 0.55,0.38 0.57,-0.85 0.61,-0.28 0.59,0.18 0.60,-0.62
0.66,-0.45 0.64,0.05 0.65,-0.18 0.71,-0.35 0.69,0.28 0.72,-0.72 0.81,-0.55 0.79,-0.08 0.82,0.18 0.91,-0.42 0.89,0.05
-0.345,0.11 -0.325,-0.44 -0.305,0.36 -0.335,-0.19 -0.315,0.61 -0.295,-0.64 -0.285,0.16 -0.275,-0.34 -0.265,0.41 -0.255,-0.09
-0.245,0.26 -0.235,-0.54 -0.225,0.01 -0.215,0.51 -0.205,-0.29 -0.195,0.21 -0.185,-0.74 -0.175,0.36 -0.165,-0.04 -0.155,0.66
-0.145,-0.44 -0.135,0.11 -0.125,-0.19 -0.115,0.46 -0.105,-0.59 -0.095,0.21 -0.085,-0.09 -0.075,0.56 -0.065,-0.39 -0.055,0.06
-0.045,0.31 -0.035,-0.54 -0.025,0.46 -0.015,-0.14 -0.005,0.16 0.005,-0.69 0.015,0.56 0.025,-0.29 0.035,0.26 0.045,-0.04
0.055,0.41 0.065,-0.49 0.075,0.16 0.085,-0.19 0.095,0.71 0.105,-0.39 0.115,0.06 0.125,0.36 0.135,-0.59 0.145,0.21
0.155,-0.09 0.165,0.51 0.175,-0.44 0.185,0.11 0.195,-0.24 0.205,0.41 0.215,-0.64 0.225,0.16 0.235,-0.04 0.245,0.56
0.255,-0.34 0.265,0.06 0.275,-0.54 0.285,0.31 0.295,-0.19 0.305,0.46 0.315,-0.44 0.325,0.01 0.335,0.21 0.345,-0.69
0.355,0.36 0.365,-0.29 0.375,0.11 0.385,-0.49 0.395,0.41 0.405,-0.14 0.415,0.16 0.425,-0.59 0.435,0.06 0.445,-0.34
0.455,0.31 0.465,-0.09 0.475,-0.54 0.485,0.21 0.495,-0.24 0.515,0.06 0.535,-0.44 0.555,0.21 0.575,-0.19 0.595,-0.64
-0.32,-0.04 -0.28,0.26 -0.24,-0.24 -0.20,0.11 -0.16,0.31 -0.12,-0.04 -0.08,0.36 -0.04,-0.29 0.00,0.21 0.04,0.01
0.08,0.26 0.12,-0.09 0.16,0.16 0.20,-0.14 0.24,0.36 0.28,0.01 0.32,0.26 0.36,-0.09 0.40,0.06 0.44,0.41
0.48,-0.04 0.52,0.31 -0.42,0.31 -0.38,-0.09 -0.44,-0.34 0.62,0.11 0.66,-0.29 0.70,0.06 0.74,-0.49 0.58,0.46
-0.30,-1.04 0.10,-1.21 0.40,-1.01 0.60,-1.06 -0.15,-1.26 0.25,-1.31 0.82,-0.86 0.75,0.36 -0.55,0.26 -0.60,-0.44
"""

M80A_REC = """
-2.99,-0.38 -2.97,-0.45 -2.95,-0.30 -2.93,-0.41 -2.91,-0.35 -2.89,-0.50 -2.87,-0.28 -2.85,-0.39 -2.83,-0.44 -2.81,-0.33
-2.79,-0.55 -2.77,-0.37 -2.75,-0.42 -2.73,-0.29 -2.71,-0.40 -2.69,-0.47 -2.67,-0.34 -2.65,-0.63 -2.63,-0.38 -2.61,-0.43
-2.59,-0.31 -2.57,-0.49 -2.55,-0.95 -2.53,-0.36 -2.51,-0.41 -2.49,-0.27 -2.47,-0.45 -2.45,-0.38 -2.43,-0.52 -2.41,-0.33
-2.39,-0.40 -2.37,-0.30 -2.35,-0.46 -2.33,-0.37 -2.31,-0.42 -2.29,-0.26 -2.27,-0.39 -2.25,-0.48 -2.23,-0.35 -2.21,-0.41
-2.19,-0.30 -2.17,-0.44 -2.15,-0.37 -2.13,-0.58 -2.11,-0.33 -2.09,-0.40 -2.07,-0.46 -2.05,-0.29 -2.03,-0.38 -2.01,-0.43
-1.99,-0.72 -1.97,-0.35 -1.95,-0.41 -1.93,-0.32 -1.91,0.04 -1.89,-0.47 -1.87,-0.37 -1.85,-0.42 -1.83,-0.30 -1.81,-0.39
-1.79,-0.50 -1.77,-0.34 -1.75,-0.40 -1.73,-0.28 -1.71,-0.24 -1.69,-0.21 -1.68,-0.27 -1.67,-0.32 -1.66,-0.23 -1.65,-0.88
-1.64,-0.26 -1.63,-0.36 -1.62,-0.22 -1.61,-0.30 -1.59,-0.42 -1.57,-0.33 -1.55,-0.38 -1.53,-0.45 -1.51,-0.31 -1.49,-0.37
-1.47,-0.41 -1.45,-0.34 -1.43,-0.28 -1.41,-0.40 -1.39,-0.36 -1.37,-0.43 -1.35,-0.32 -1.33,-0.39 -1.31,-0.35 -1.29,-0.26
-1.27,-0.41 -1.25,-0.30 -1.23,-0.37 -1.21,-0.33 -1.19,-0.24 -1.17,-0.40 -1.15,-0.31 -1.13,-0.36 -1.11,-0.28 -1.09,-0.34
-1.07,-0.39 -1.05,-0.30 -1.03,-0.33 -1.01,-0.27 -1.20,0.20 -1.12,0.74 -2.77,-0.09 -1.30,-0.20 -1.26,-0.18
-0.98,-0.33 -0.96,-0.29 -0.94,-0.36 -0.92,-0.31 -0.90,-0.27 -0.88,-0.34 -0.86,-0.30 -0.84,-0.38 -0.82,-0.28 -0.80,-0.32
-0.78,-0.35 -0.76,-0.29 -0.74,-0.31 -0.72,-0.26 -0.70,-0.34 -0.68,-0.30 -0.66,-0.37 -0.64,-0.28 -0.62,-0.32 -0.60,-0.30
-0.58,-0.25 -0.57,-0.35 -0.56,-0.31 -0.55,-0.28 -0.54,-0.33 -0.53,-0.38 -0.52,-0.30 -0.51,-0.27
-0.50,-0.31 -0.49,-0.27 -0.48,-0.35 -0.47,-0.29 -0.46,-0.33 -0.45,-0.25 -0.44,-0.37 -0.43,-0.30 -0.42,-0.28 -0.41,-0.34
-0.40,-0.32 -0.39,-0.39 -0.38,-0.26 -0.37,-0.31 -0.36,-0.36 -0.35,-0.29 -0.34,-0.23 -0.33,-0.33 -0.32,-0.30 -0.31,-0.35
-0.30,-0.28 -0.29,-0.32 -0.28,-0.38 -0.27,-0.27 -0.26,-0.31 -0.25,-0.34 -0.24,-0.29 -0.23,-0.24 -0.22,-0.33 -0.21,-0.30
-0.20,-0.36 -0.19,-0.28 -0.18,-0.32 -0.17,-0.26 -0.16,-0.34 -0.15,-0.30 -0.14,-0.39 -0.13,-0.27 -0.12,-0.31 -0.11,-0.35
-0.10,-0.29 -0.09,-0.33 -0.08,-0.25 -0.07,-0.31 -0.06,-0.37 -0.05,-0.28 -0.04,-0.32 -0.03,-0.30 -0.02,-0.35 -0.01,-0.27
0.00,-0.33 0.01,-0.29 0.02,-0.38 0.03,-0.31 0.04,-0.26 0.05,-0.34 0.06,-0.30 0.07,-0.23 0.08,-0.36 0.09,-0.29
0.10,-0.32 0.11,-0.27 0.12,-0.35 0.13,-0.31 0.14,-0.40 0.15,-0.28 0.16,-0.33 0.17,-0.25 0.18,-0.30 0.19,-0.36
0.20,-0.29 0.21,-0.34 0.22,-0.31 0.23,-0.27 0.24,-0.37 0.25,-0.30 0.26,-0.33 0.27,-0.24 0.28,-0.32 0.29,-0.28
0.30,-0.35 0.31,-0.31 0.32,-0.38 0.33,-0.29 0.34,-0.26 0.35,-0.33 0.36,-0.30 0.37,-0.36 0.38,-0.28 0.39,-0.32
0.40,-0.25 0.41,-0.34 0.42,-0.31 0.43,-0.29 0.44,-0.37 0.45,-0.30 0.46,-0.27 0.47,-0.33 0.48,-0.31 0.49,-0.39
0.50,-0.28 0.51,-0.32 0.52,-0.35 0.53,-0.26 0.54,-0.30 0.55,-0.34 0.56,-0.29 0.57,-0.23 0.58,-0.33 0.59,-0.31
0.60,-0.36 0.61,-0.28 0.62,-0.32 0.63,-0.30 0.64,-0.38 0.65,-0.27 0.66,-0.31 0.67,-0.34 0.68,-0.29 0.69,-0.25
0.70,-0.33 0.71,-0.30 0.72,-0.35 0.73,-0.28 0.74,-0.32 0.75,-0.37 0.76,-0.29 0.77,-0.31 0.78,-0.26 0.79,-0.34
0.80,-0.30 0.81,-0.33 0.82,-0.28 0.83,-0.36 0.84,-0.31 0.85,-0.27 0.86,-0.32 0.87,-0.29 0.88,-0.35 0.89,-0.30
0.90,-0.25 0.91,-0.33 0.92,-0.31 0.93,-0.38 0.94,-0.29 0.95,-0.32 0.96,-0.27 0.97,-0.34 0.98,-0.30 0.99,-0.31
1.01,-0.29 1.03,-0.34 1.05,-0.30 1.07,-0.27 1.09,-0.32 1.11,-0.31 1.13,-0.36 1.15,-0.29 1.17,-0.31 1.19,-0.28
1.21,-0.33 1.23,-0.30 1.25,-0.32 1.27,-0.29 1.29,-0.31 1.31,-0.34 1.33,-0.30 1.35,-0.28 1.37,-0.31 1.39,-0.32
1.41,-0.30 1.43,-0.31 1.45,-0.29 1.49,-0.31 1.54,-0.32 1.57,-0.30 1.59,-0.31 1.65,-0.29 1.78,-0.31 1.91,-0.32
2.07,-0.31 2.47,-0.31 1.70,-0.30 1.62,-0.31
-0.295,-0.31 -0.255,-0.30 -0.215,-0.33 -0.175,-0.29 -0.135,-0.32 -0.095,-0.30 -0.055,-0.34 -0.015,-0.31 0.025,-0.29
0.065,-0.32 0.105,-0.30 0.145,-0.33 0.185,-0.31 0.225,-0.29 0.265,-0.32 0.305,-0.30 0.345,-0.31 0.385,-0.34
0.425,-0.30 0.465,-0.32 0.505,-0.31 0.545,-0.29 0.585,-0.32 0.625,-0.30
-0.35,-0.50 0.20,-0.15 0.65,-0.60 -0.10,-0.55 1.20,-0.50 0.40,-0.48 -0.20,-0.12
"""

M80A_REC_CORE = """
-0.895,-0.31 -0.87,-0.27 -0.845,-0.34 -0.82,-0.30 -0.795,-0.25 -0.77,-0.32 -0.745,-0.36 -0.72,-0.29 -0.695,-0.33 -0.67,-0.28
-0.645,-0.35 -0.62,-0.31 -0.595,-0.26 -0.57,-0.33 -0.545,-0.30 -0.52,-0.37 -0.495,-0.29 -0.47,-0.32 -0.445,-0.27 -0.42,-0.34
-0.395,-0.30 -0.37,-0.36 -0.345,-0.28 -0.32,-0.31 -0.295,-0.25 -0.27,-0.33 -0.245,-0.30 -0.22,-0.35 -0.195,-0.29 -0.17,-0.32
-0.145,-0.27 -0.12,-0.34 -0.095,-0.31 -0.07,-0.37 -0.045,-0.28 -0.02,-0.32 0.005,-0.30 0.03,-0.35 0.055,-0.26 0.08,-0.31
0.105,-0.33 0.13,-0.29 0.155,-0.36 0.18,-0.30 0.205,-0.27 0.23,-0.33 0.255,-0.31 0.28,-0.35 0.305,-0.28 0.33,-0.32
0.355,-0.30 0.38,-0.25 0.405,-0.34 0.43,-0.29 0.455,-0.31 0.48,-0.36 0.505,-0.27 0.53,-0.32 0.555,-0.30 0.58,-0.34
0.605,-0.28 0.63,-0.31 0.655,-0.35 0.68,-0.29 0.705,-0.32 0.73,-0.26 0.755,-0.33 0.78,-0.30 0.805,-0.36 0.83,-0.29
0.855,-0.31 0.88,-0.34 0.905,-0.28 0.93,-0.32 0.955,-0.30 0.98,-0.35 1.005,-0.29 1.03,-0.31 1.055,-0.33 1.08,-0.30
1.105,-0.27 1.13,-0.32 1.155,-0.30 1.18,-0.34
"""

# ---- model-fit curves (log10 beta, log10 Te/Tp) ----
M20A_TURB_FIT_LB = [-3.0, -1.5, -1.09, -0.85, -0.55, -0.29, 0.01, 0.25, 0.52, 0.79, 1.32, 3.0]
M20A_TURB_FIT_LT = [-0.02, -0.023, -0.03, -0.05, -0.13, -0.27, -0.42, -0.54, -0.60, -0.62, -0.63, -0.63]
M20A_REC_FIT_LB = [-3.0, -1.5, -1.09, -0.55, -0.29, 0.01, 0.25, 0.52, 0.79, 1.32, 3.0]
M20A_REC_FIT_LT = [-0.166, -0.17, -0.177, -0.22, -0.32, -0.42, -0.53, -0.565, -0.58, -0.585, -0.585]
M80A_TURB_FIT_LB = [-3.0, -1.0, -0.55, -0.29, -0.125, -0.02, 0.1, 0.25, 0.52, 0.8, 2.477]
M80A_TURB_FIT_LT = [-0.306, -0.307, -0.325, -0.40, -0.46, -0.51, -0.57, -0.63, -0.68, -0.69, -0.693]
M80A_REC_FIT_LB = [-3.0, -1.0, -0.55, -0.29, -0.02, 0.25, 0.52, 0.8, 2.477]
M80A_REC_FIT_LT = [-0.383, -0.385, -0.395, -0.42, -0.46, -0.51, -0.535, -0.538, -0.538]


def pts(s, label):
    rows = []
    for tok in s.split():
        a, b = tok.split(",")
        rows.append({"beta": 10 ** float(a), "te": 10 ** float(b), "s": label})
    return pd.DataFrame(rows)


def curve(lb, lt, label):
    return pd.DataFrame({"beta": [10 ** v for v in lb], "te": [10 ** v for v in lt], "s": label})


# axis tick positions (major decades + minor 2..9)
x_vals = [m * 10.0 ** e for e in range(-3, 3) for m in range(1, 10)] + [1000.0]
y_vals = [m * 10.0 ** e for e in range(-2, 3) for m in range(1, 10)]
y_vals = [v for v in y_vals if 0.0299 < v < 301]

MAJ = "abs(log(datum.value)/LN10 - round(log(datum.value)/LN10)) < 0.01"
LBL = f"({MAJ}) ? '10' + {SUPERS}[round(log(datum.value)/LN10) + 3] : ''"

W, H = 745, 362


def axis(vals, **kw):
    return alt.Axis(values=vals, labelExpr=LBL, labelFont=SERIF,
                    labelFontSize={"condition": {"test": MAJ, "value": 21}, "value": 0},
                    labelColor="black", labelOverlap=False, labelFlush=False,
                    tickColor="black",
                    tickSize={"condition": {"test": MAJ, "value": 7}, "value": 3.5},
                    tickWidth={"condition": {"test": MAJ, "value": 1}, "value": 0.7},
                    gridOpacity={"condition": {"test": MAJ, "value": 1}, "value": 0},
                    gridColor="#b0b0b0", gridDash=[4, 3], gridWidth=0.8,
                    domainColor="black", **kw)


LEGEND = alt.Legend(
    title=None, orient="top-right", offset=10, fillColor="rgba(255,255,255,0.85)",
    strokeColor="#cccccc", cornerRadius=4, padding=5,
    labelFont=SERIF, labelFontSize=21, labelColor="black", labelLimit=0,
    rowPadding=2, labelOffset=24, symbolOffset=8, symbolSize=729, symbolStrokeWidth=2,
)


def panel(turb, rec, tfit, rfit, case, top):
    xkw = dict(labels=False, title=None) if top else dict(
        title="β", titleFont=SERIF, titleFontSize=24, titleFontStyle="italic",
        titleFontWeight="normal", titleColor="black", titleY=133, titleBaseline="middle",
        labelPadding=3)
    ykw = dict(title="Tₑ/Tₚ", titleFont=SERIF, titleFontSize=23, titleFontStyle="italic",
               titleFontWeight="normal", titleColor="black", titleX=-45, titleY=H + 9.5,
               titleBaseline="middle", titleAngle=-90, labelPadding=3) if top else dict(
        title=None, labelPadding=3)
    X = alt.X("beta:Q", scale=alt.Scale(type="log", domain=[1e-3, 1e3]), axis=axis(x_vals, **xkw))
    Y = alt.Y("te:Q", scale=alt.Scale(type="log", domain=[0.03, 300]), axis=axis(y_vals, **ykw))
    leg = LEGEND if top else None
    C = alt.Color("s:N", scale=alt.Scale(domain=SERIES, range=FILLS), legend=leg)
    ST = alt.Stroke("s:N", scale=alt.Scale(domain=SERIES, range=STROKES), legend=leg)

    p1 = alt.Chart(pts(turb, SERIES[0])).mark_circle(size=22, opacity=1, clip=True).encode(x=X, y=Y, color=C)
    p2 = alt.Chart(pts(rec, SERIES[1])).mark_circle(size=22, opacity=1, clip=True).encode(x=X, y=Y, color=C)
    l1 = alt.Chart(tfit).mark_line(strokeWidth=1.8, interpolate="monotone", clip=True).encode(
        x=X, y=Y, stroke=ST, order="beta:Q")
    l2 = alt.Chart(rfit).mark_line(strokeWidth=1.8, interpolate="monotone", clip=True).encode(
        x=X, y=Y, stroke=ST, order="beta:Q")
    lab = pd.DataFrame({"beta": [0.00206], "te": [0.055], "w": ["case"], "c": [case]})
    t1 = alt.Chart(lab).mark_text(font=SERIF, fontSize=20, align="left", baseline="middle",
                                  color="black").encode(x=X, y=Y, text="w:N")
    t2 = alt.Chart(lab).mark_text(font=MONO, fontSize=18, align="left", baseline="middle",
                                  color="black", dx=40).encode(x=X, y=Y, text="c:N")
    layers = [p1, p2, l1, l2, t1, t2]
    if top:
        # empty carrier layer that only builds the combined legend
        carrier = pd.DataFrame({"beta": pd.Series([], dtype=float),
                                "te": pd.Series([], dtype=float),
                                "s": pd.Series([], dtype=str)})
        leg_layer = alt.Chart(carrier).mark_point(filled=True, opacity=1).encode(
            x=X, y=Y, color=C, stroke=ST,
            shape=alt.Shape("s:N", scale=alt.Scale(domain=SERIES, range=SHAPES), legend=leg))
        layers.append(leg_layer)
    return alt.layer(*layers).properties(width=W, height=H)


top = panel(M20A_TURB + M20A_TURB_CORE, M20A_REC + M20A_REC_CORE,
            curve(M20A_TURB_FIT_LB, M20A_TURB_FIT_LT, SERIES[2]),
            curve(M20A_REC_FIT_LB, M20A_REC_FIT_LT, SERIES[3]), CASES[0], True)
bottom = panel(M80A_TURB + M80A_TURB_CORE, M80A_REC + M80A_REC_CORE,
               curve(M80A_TURB_FIT_LB, M80A_TURB_FIT_LT, SERIES[2]),
               curve(M80A_REC_FIT_LB, M80A_REC_FIT_LT, SERIES[3]), CASES[1], False)

chart = alt.vconcat(top, bottom, spacing=19, bounds="flush").resolve_scale(
    color="independent", stroke="independent", shape="independent"
).properties(padding=0).configure_view(stroke="black", strokeWidth=1.2)

chart.save("out.html", embed_options={"renderer": "svg", "actions": False})
